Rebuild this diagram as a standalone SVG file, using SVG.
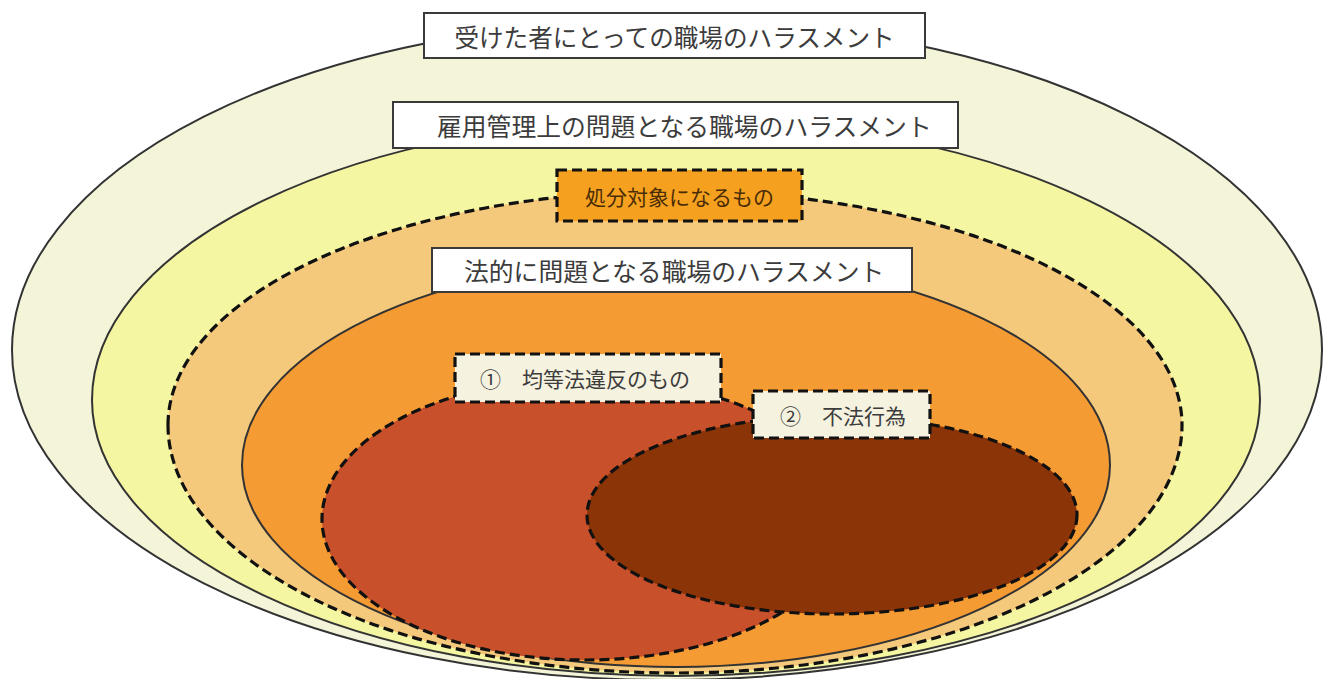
<svg xmlns="http://www.w3.org/2000/svg" width="1324" height="679" viewBox="0 0 1324 679">
<style>
.solid{stroke:#333;stroke-width:2}
.dash{stroke:#111;stroke-width:3.2;stroke-dasharray:10 5}
.lbl{fill:#fff;stroke:#3a3a3a;stroke-width:2}
.lbld{fill:#f6f2e0;stroke:#111;stroke-width:3.2;stroke-dasharray:10 5}
.t{font-family:"Noto Sans CJK JP","Noto Sans CJK SC",sans-serif;fill:#3c3c3c;dominant-baseline:central}
</style>
<rect width="1324" height="679" fill="#fff"/>
<g id="area-victim">
<path class="solid" fill="#f4f5d8" d="M12,350 A655,330 0 0 1 1322,350 A655,330 0 0 1 12,350 Z"/>
</g>
<g id="area-employment">
<path class="solid" fill="#f5f6a2" d="M92,400 A584,282 0 0 1 1260,400 A584,276 0 0 1 92,400 Z"/>
</g>
<g id="area-discipline">
<path class="dash" fill="#f5c97b" d="M168,425 A507,234 0 0 1 1182,425 A507,248 0 0 1 168,425 Z"/>
</g>
<g id="area-legal">
<path class="solid" fill="#f59b34" d="M242,465 A434,207 0 0 1 1110,465 A434,202 0 0 1 242,465 Z"/>
</g>
<g id="area-equal">
<ellipse class="dash" fill="#c8512b" cx="585" cy="519" rx="263" ry="141"/>
</g>
<g id="area-tort">
<ellipse class="dash" fill="#8a3407" cx="832" cy="515" rx="245" ry="99"/>
</g>
<g id="label-victim">
<rect class="lbl" x="424" y="13" width="501" height="45"/>
<text class="t" x="674.5" y="35.5" font-size="24.6" text-anchor="middle">受けた者にとっての職場のハラスメント</text>
</g>
<g id="label-employment">
<rect class="lbl" x="393" y="102" width="565" height="46"/>
<text class="t" x="437" y="125" font-size="24.8">雇用管理上の問題となる職場のハラスメント</text>
</g>
<g id="label-discipline">
<rect x="557" y="170" width="245" height="51" fill="#f5a11f" stroke="#111" stroke-width="3.2" stroke-dasharray="10 5"/>
<text class="t" x="585" y="195.5" font-size="21" style="fill:#4a2c06">処分対象になるもの</text>
</g>
<g id="label-legal">
<rect class="lbl" x="432" y="248" width="480" height="44"/>
<text class="t" x="464" y="270" font-size="24.8">法的に問題となる職場のハラスメント</text>
</g>
<g id="label-equal">
<rect class="lbld" x="455" y="354" width="266" height="48"/>
<text class="t" x="480" y="378" font-size="21">①　均等法違反のもの</text>
</g>
<g id="label-tort">
<rect class="lbld" x="753" y="391" width="177" height="47"/>
<text class="t" x="780" y="414.5" font-size="21">②　不法行為</text>
</g>
<g id="connectors"/>
</svg>
